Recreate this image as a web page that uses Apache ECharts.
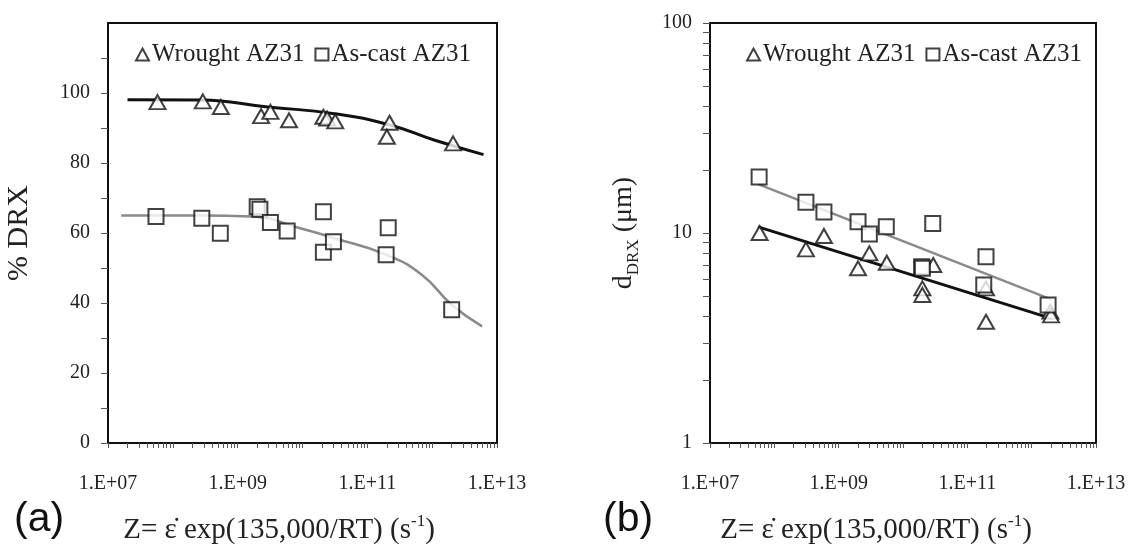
<!DOCTYPE html>
<html>
<head>
<meta charset="utf-8">
<script src="https://cdn.jsdelivr.net/npm/echarts@6/dist/echarts.min.js"></script>
<style>
html,body{margin:0;padding:0;background:#fff;}
#chart{width:1139px;height:549px;}
</style>
</head>
<body>
<div id="chart"></div>
<script>
// ---- Data ----
const seriesNames = ['Wrought AZ31', 'As-cast AZ31'];
const xLabelValues = [1e7, 1e9, 1e11, 1e13];
const xTickLabels = ['1.E+07', '1.E+09', '1.E+11', '1.E+13'];
const pctTickLabels = [0, 20, 40, 60, 80, 100];
const dTickLabels = [1, 10, 100];

// (a) % DRX
const wroughtPctZ = [5.8e7, 2.9e8, 5.5e8, 2.3e9, 3.2e9, 6.2e9, 2.1e10, 2.4e10, 3.2e10, 2.2e11, 2.0e11, 2.1e12];
const wroughtPct  = [97.4, 97.6, 96.0, 93.4, 94.6, 92.2, 93.2, 92.7, 91.9, 91.5, 87.5, 85.6];
const castPctZ = [5.5e7, 2.8e8, 5.4e8, 2.0e9, 2.2e9, 3.2e9, 5.8e9, 2.1e10, 2.1e10, 3.0e10, 2.1e11, 1.95e11, 2.0e12];
const castPct  = [64.7, 64.2, 59.9, 67.5, 66.8, 63.0, 60.6, 66.1, 54.5, 57.5, 61.5, 53.8, 38.1];
const wroughtPctFitZ = [2.0e7, 2.7e8, 2.9e9, 3.1e10, 2.3e11, 1.1e12, 6.2e12];
const wroughtPctFit  = [98.1, 98.0, 96.0, 94.1, 90.8, 86.5, 82.4];
const castPctFitZ = [1.6e7, 2.7e8, 1.6e9, 9.5e9, 3.1e10, 1.95e11, 6.9e11, 2.0e12, 5.9e12];
const castPctFit  = [65.0, 65.0, 64.7, 61.3, 58.5, 53.8, 48.1, 39.5, 33.3];

// (b) d_DRX (um)
const wroughtDZ = [5.9e7, 3.1e8, 5.9e8, 2.0e9, 3.0e9, 5.6e9, 2.0e10, 2.0e10, 2.95e10, 1.95e11, 1.95e11, 1.95e12, 2.0e12];
const wroughtD  = [10.0, 8.36, 9.68, 6.79, 8.0, 7.22, 5.45, 5.07, 7.04, 5.45, 3.78, 4.22, 4.05];
const castDZ = [5.8e7, 3.1e8, 5.9e8, 2.0e9, 3.0e9, 5.5e9, 2.9e10, 1.95e10, 2.0e10, 1.95e11, 1.8e11, 1.8e12];
const castD  = [18.5, 14.0, 12.6, 11.3, 9.9, 10.7, 11.1, 6.9, 6.8, 7.7, 5.65, 4.54];
const wroughtDFitZ = [5.6e7, 2.0e12];
const wroughtDFit  = [10.7, 3.92];
const castDFitZ = [5.6e7, 2.0e12];
const castDFit  = [17.1, 4.83];

// ---- helpers ----
const pairs = (xs, ys) => xs.map((x, i) => [x, ys[i]]);
const serif = 'Liberation Serif';
const txt = '#222';
const gray = '#8a8a8a';
const ink = '#111';

const xMinorTicks = [];
for (let e = 7; e <= 12; e++) for (let k = 1; k <= 9; k++) xMinorTicks.push(k * Math.pow(10, e));
xMinorTicks.push(1e13);
const dMinorTicks = [];
for (let e = 0; e <= 1; e++) for (let k = 1; k <= 9; k++) dMinorTicks.push(k * Math.pow(10, e));
dMinorTicks.push(100);
const pctTicks = [];
for (let v = 0; v <= 110; v += 10) pctTicks.push(v);

function xAxisDef(gridIndex) {
  return {
    type: 'log', logBase: 10, gridIndex, min: 1e7, max: 1e13,
    axisLine: {show: true, lineStyle: {color: ink, width: 2}},
    axisTick: {show: true, length: 5, customValues: xMinorTicks, lineStyle: {color: '#555', width: 1}},
    axisLabel: {
      customValues: xLabelValues, margin: 31, color: txt, fontFamily: serif, fontSize: 20,
      formatter: v => xTickLabels[xLabelValues.findIndex(t => Math.abs(Math.log10(t) - Math.log10(v)) < 0.01)] || ''
    },
    splitLine: {show: false}
  };
}

const legendBase = {
  data: seriesNames, top: 37, itemWidth: 13, itemHeight: 12, itemGap: 10,
  textStyle: {fontFamily: serif, fontSize: 25, color: txt, padding: [0, 0, 0, -2]}, selectedMode: false
};

const xTitle = '{a|Z= ε̇ exp(135,000/RT) (s}{s|-1}{a|)}';
const xTitleRich = {
  a: {fontFamily: serif, fontSize: 29, fill: txt, lineHeight: 34},
  s: {fontFamily: serif, fontSize: 17, fill: txt, lineHeight: 16, verticalAlign: 'top'}
};

const option = {
  animation: false,
  backgroundColor: '#fff',
  grid: [
    {left: 108, top: 23, width: 389, height: 420, show: true, borderColor: ink, borderWidth: 2, containLabel: false},
    {left: 710, top: 23, width: 386, height: 420, show: true, borderColor: ink, borderWidth: 2, containLabel: false}
  ],
  legend: [
    Object.assign({left: 130}, legendBase),
    Object.assign({left: 741}, legendBase)
  ],
  xAxis: [xAxisDef(0), xAxisDef(1)],
  yAxis: [
    {
      type: 'value', gridIndex: 0, min: 0, max: 120, interval: 20,
      name: '% DRX', nameLocation: 'middle', nameGap: 74,
      nameTextStyle: {fontFamily: serif, fontSize: 30, color: txt},
      axisLine: {show: true, lineStyle: {color: ink, width: 2}},
      axisTick: {show: true, length: 7, customValues: pctTicks, lineStyle: {color: '#555'}},
      axisLabel: {customValues: pctTickLabels, color: txt, fontFamily: serif, fontSize: 20, margin: 18},
      splitLine: {show: false}
    },
    {
      type: 'log', logBase: 10, gridIndex: 1, min: 1, max: 100,
      name: '{a|d}{b|DRX}{a| (μm)}', nameLocation: 'middle', nameGap: 68,
      nameTextStyle: {
        color: txt,
        rich: {
          a: {fontFamily: serif, fontSize: 28, color: txt, lineHeight: 36},
          b: {fontFamily: serif, fontSize: 17, color: txt, lineHeight: 14, verticalAlign: 'bottom'}
        }
      },
      axisLine: {show: true, lineStyle: {color: ink, width: 2}},
      axisTick: {show: true, length: 7, customValues: dMinorTicks, lineStyle: {color: '#555'}},
      axisLabel: {customValues: dTickLabels, color: txt, fontFamily: serif, fontSize: 20, margin: 18},
      splitLine: {show: false}
    }
  ],
  series: [
    {name: 'wroughtFitA', type: 'line', xAxisIndex: 0, yAxisIndex: 0, data: pairs(wroughtPctFitZ, wroughtPctFit),
      smooth: 0.5, showSymbol: false, lineStyle: {color: ink, width: 3}, z: 2, silent: true},
    {name: 'castFitA', type: 'line', xAxisIndex: 0, yAxisIndex: 0, data: pairs(castPctFitZ, castPctFit),
      smooth: 0.5, showSymbol: false, lineStyle: {color: gray, width: 2.5}, z: 2, silent: true},
    {name: seriesNames[0], type: 'scatter', xAxisIndex: 0, yAxisIndex: 0, data: pairs(wroughtPctZ, wroughtPct),
      symbol: 'emptyTriangle', symbolSize: [16, 14], itemStyle: {color: ink, borderWidth: 2}, z: 3},
    {name: seriesNames[1], type: 'scatter', xAxisIndex: 0, yAxisIndex: 0, data: pairs(castPctZ, castPct),
      symbol: 'emptyRect', symbolSize: 15, itemStyle: {color: ink, borderWidth: 2}, z: 3},

    {name: 'wroughtFitB', type: 'line', xAxisIndex: 1, yAxisIndex: 1, data: pairs(wroughtDFitZ, wroughtDFit),
      showSymbol: false, lineStyle: {color: ink, width: 3}, z: 2, silent: true},
    {name: 'castFitB', type: 'line', xAxisIndex: 1, yAxisIndex: 1, data: pairs(castDFitZ, castDFit),
      showSymbol: false, lineStyle: {color: gray, width: 2.5}, z: 2, silent: true},
    {name: seriesNames[0], type: 'scatter', xAxisIndex: 1, yAxisIndex: 1, data: pairs(wroughtDZ, wroughtD),
      symbol: 'emptyTriangle', symbolSize: [16, 14], itemStyle: {color: ink, borderWidth: 2}, z: 3},
    {name: seriesNames[1], type: 'scatter', xAxisIndex: 1, yAxisIndex: 1, data: pairs(castDZ, castD),
      symbol: 'emptyRect', symbolSize: 15, itemStyle: {color: ink, borderWidth: 2}, z: 3}
  ],
  graphic: [
    {type: 'text', left: 14, top: 499, style: {text: '(a)', font: '41px "Liberation Sans"', fill: ink}},
    {type: 'text', left: 603, top: 499, style: {text: '(b)', font: '41px "Liberation Sans"', fill: ink}},
    {type: 'text', x: 279, y: 530, style: {text: xTitle, align: 'center', verticalAlign: 'middle', rich: xTitleRich}},
    {type: 'text', x: 876, y: 530, style: {text: xTitle, align: 'center', verticalAlign: 'middle', rich: xTitleRich}}
  ]
};

const chart = echarts.init(document.getElementById('chart'), null, {renderer: 'canvas'});
chart.setOption(option);
</script>
</body>
</html>
